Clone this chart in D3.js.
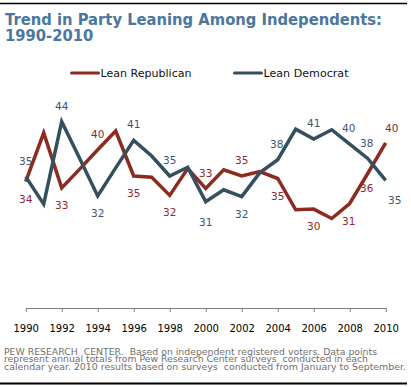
<!DOCTYPE html>
<html>
<head>
<meta charset="utf-8">
<title>Trend in Party Leaning Among Independents: 1990-2010</title>
<style>
  body { margin: 0; background: #fff; }
  svg { display: block; font-family: "DejaVu Sans", Verdana, sans-serif; }
</style>
</head>
<body>
<script src="https://cdn.jsdelivr.net/npm/d3@7"></script>
<script>
// data
const years = d3.range(1990, 2011);
const leanRep = [34.3, 42.1, 33.3, 36.3, 39.4, 42.4, 35.2, 35.0, 32.1, 36.4, 33.2,
                 36.2, 35.2, 35.9, 34.8, 29.8, 29.9, 28.4, 30.8, 35.6, 40.5];
const leanDem = [35.1, 30.7, 43.9, 38.0, 32.0, 36.5, 40.9, 38.4, 35.2, 36.6, 31.1,
                 33.0, 31.9, 35.7, 37.8, 42.7, 41.1, 42.6, 40.3, 38.0, 34.5];

// labelled points and the numbers printed next to them
const repLabelYears = [1990, 1992, 1994, 1996, 1998, 2000, 2002, 2004, 2006, 2008, 2009, 2010];
const repLabelText  = ["34", "33", "40", "35", "32", "33", "35", "35", "30", "31", "36", "40"];
const demLabelYears = [1990, 1992, 1994, 1996, 1998, 2000, 2002, 2004, 2006, 2008, 2009, 2010];
const demLabelText  = ["35", "44", "32", "41", "35", "31", "32", "38", "41", "40", "38", "35"];

const tickYears = d3.range(1990, 2011, 2);

const W = 411, H = 387;
const redLine = "#8c2b1f", blueLine = "#344f5e";
const redText = "#8e2a2e", blueText = "#3b5670";

const svg = d3.select("body").append("svg")
  .attr("width", W)
  .attr("height", H);

// rules top and bottom
svg.append("line").attr("x1", 0).attr("x2", 407).attr("y1", 3.5).attr("y2", 3.5)
  .attr("stroke", "#000").attr("stroke-width", 1.5);
svg.append("line").attr("x1", 0).attr("x2", 407).attr("y1", 383.5).attr("y2", 383.5)
  .attr("stroke", "#000").attr("stroke-width", 2);

// title, squeezed to the width of the original
const t1 = svg.append("text").attr("x", 5).attr("y", 25)
  .attr("font-size", 15.2).attr("font-weight", "bold").attr("fill", "#4a77a0")
  .text("Trend in Party Leaning Among Independents:");
const t2 = svg.append("text").attr("x", 5).attr("y", 40.5)
  .attr("font-size", 15.2).attr("font-weight", "bold").attr("fill", "#4a77a0")
  .text("1990-2010");
const k = 377 / t1.node().getComputedTextLength();
t1.attr("textLength", 377).attr("lengthAdjust", "spacingAndGlyphs");
t2.attr("textLength", t2.node().getComputedTextLength() * k).attr("lengthAdjust", "spacingAndGlyphs");

// scales
const x = d3.scaleLinear().domain([1990, 2010]).range([25.7, 385.7]);
const y = d3.scaleLinear().domain([28, 44]).range([221, 121]);

// legend
const legend = [
  { name: "Lean Republican", color: redLine, x0: 71.5, w: 91 },
  { name: "Lean Democrat", color: blueLine, x0: 234.5, w: 85 }
];
legend.forEach(d => {
  svg.append("line").attr("x1", d.x0).attr("x2", d.x0 + 27).attr("y1", 73).attr("y2", 73)
    .attr("stroke", d.color).attr("stroke-width", 3).attr("stroke-linecap", "round");
  svg.append("text").attr("x", d.x0 + 29).attr("y", 77)
    .attr("font-size", 11).attr("fill", "#111")
    .attr("textLength", d.w).attr("lengthAdjust", "spacingAndGlyphs")
    .text(d.name);
});

// lines
const line = d3.line().x(d => x(d[0])).y(d => y(d[1]));
svg.append("path")
  .datum(years.map((yr, i) => [yr, leanRep[i]]))
  .attr("d", line).attr("fill", "none")
  .attr("stroke", redLine).attr("stroke-width", 3.5).attr("stroke-linejoin", "miter");
svg.append("path")
  .datum(years.map((yr, i) => [yr, leanDem[i]]))
  .attr("d", line).attr("fill", "none")
  .attr("stroke", blueLine).attr("stroke-width", 3.5).attr("stroke-linejoin", "miter");

// value labels: above (-) or below (+) the point
const repSide = { 1994: -1, 2000: -1, 2002: -1, 2010: -1 };
const demSide = { 1994: 1, 2000: 1, 2002: 1, 2010: 1 };
const nudgeX = { rep2010: 6, dem2010: 9, rep2008: -1, dem2008: -1, rep2009: -1, dem2009: -1, dem2004: -1 };

function addLabels(labelYears, labelText, values, side, defSide, color, key) {
  labelYears.forEach((yr, i) => {
    const v = values[years.indexOf(yr)];
    const s = side[yr] !== undefined ? side[yr] : defSide;
    let dy = s < 0 ? -12 : 21;
    if (key === "rep" && yr === 2010) dy = -11;
    if (key === "rep" && yr === 2009) dy = 18;
    if (key === "dem" && (yr === 2000 || yr === 2010)) dy = 24;
    svg.append("text")
      .attr("x", x(yr) + (nudgeX[key + yr] || 0))
      .attr("y", y(v) + dy)
      .attr("text-anchor", "middle")
      .attr("font-size", 10.5)
      .attr("fill", color)
      .text(labelText[i]);
  });
}
addLabels(repLabelYears, repLabelText, leanRep, repSide, 1, redText, "rep");
addLabels(demLabelYears, demLabelText, leanDem, demSide, -1, blueText, "dem");

// x axis
const xAxis = svg.append("g")
  .attr("transform", "translate(0,308)")
  .call(d3.axisBottom(x).tickValues(tickYears).tickFormat(d3.format("d"))
    .tickSize(4).tickSizeOuter(0));
xAxis.select(".domain").attr("stroke", "#808080");
xAxis.selectAll(".tick line").attr("stroke", "#808080");
xAxis.selectAll(".tick text")
  .attr("font-family", "DejaVu Sans, Verdana, sans-serif")
  .attr("font-size", 10).attr("fill", "#000").attr("y", 17);

// source note
const notes = [
  { text: "PEW RESEARCH  CENTER.  Based on independent registered voters. Data points", w: 373 },
  { text: "represent annual totals from Pew Research Center surveys  conducted in each", w: 364 },
  { text: "calendar year. 2010 results based on surveys  conducted from January to September.", w: 402 }
];
notes.forEach((d, i) => {
  svg.append("text").attr("x", 4).attr("y", 354.7 + i * 7.7)
    .attr("font-size", 8.2).attr("fill", "#707070")
    .attr("xml:space", "preserve").style("white-space", "pre")
    .attr("textLength", d.w).attr("lengthAdjust", "spacingAndGlyphs")
    .text(d.text);
});
</script>
</body>
</html>
